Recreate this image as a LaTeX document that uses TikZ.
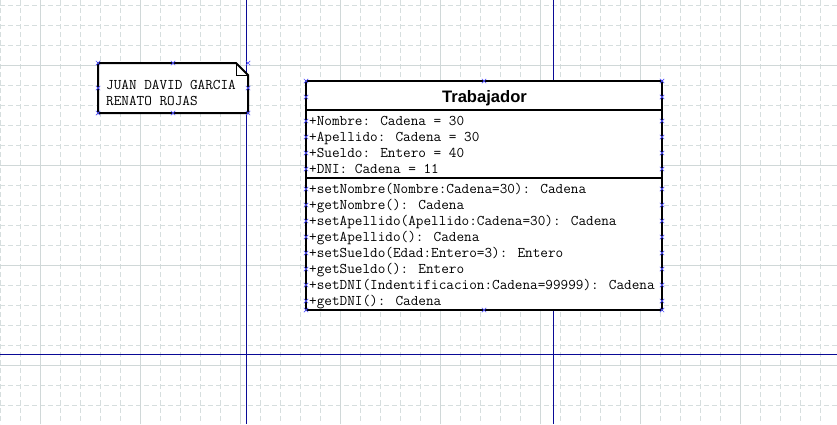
\documentclass[tikz,border=0pt]{standalone}
\usepackage{fontspec}
\newfontfamily\titlefont{Liberation Sans}
\definecolor{griddash}{RGB}{214,222,222}
\definecolor{gridsolid}{RGB}{208,216,216}
\definecolor{guide}{RGB}{10,10,150}
\definecolor{handle}{RGB}{80,80,255}
\tikzset{
  mono/.style={anchor=base west, inner sep=0pt, font=\ttfamily\fontsize{14.8}{16}\selectfont},
  boxline/.style={draw=black, line width=2pt, fill=white},
  handlemark/.pic={\draw[handle, line width=0.7pt] (-2.2,-2.2) -- (2.2,2.2) (-2.2,2.2) -- (2.2,-2.2);},
}
\begin{document}
\begin{tikzpicture}[x=1pt, y=-1pt]
\useasboundingbox (0,0) rectangle (837,424);
\fill[white] (0,0) rectangle (837,424);
% grid
\foreach \gx in {0,20,...,820} {\draw[griddash, line width=1pt, dash pattern=on 5pt off 3pt] (\gx,0) -- (\gx,424);}
\foreach \gy in {5,25,...,405} {\draw[griddash, line width=1pt, dash pattern=on 5pt off 3pt] (0,\gy) -- (837,\gy);}
\foreach \gx in {40,140,...,740} {\draw[gridsolid, line width=1pt] (\gx,0) -- (\gx,424);}
\foreach \gy in {65,165,265,365} {\draw[gridsolid, line width=1pt] (0,\gy) -- (837,\gy);}
% guide lines
\draw[guide, line width=1pt] (246.5,0) -- (246.5,424);
\draw[guide, line width=1pt] (0,354.5) -- (837,354.5);
\draw[guide, line width=1pt] (553.5,0) -- (553.5,424);
% note
\draw[boxline] (98,63) -- (236,63) -- (248,75) -- (248,113) -- (98,113) -- cycle;
\draw[black, line width=1pt] (236,63) -- (236,75) -- (248,75);
\node[mono] (n1) at (106,89) {JUAN DAVID GARCIA};
\node[mono] (n2) at (106,105) {RENATO ROJAS};
% class box
\draw[boxline] (306,81) rectangle (662,310);
\draw[black, line width=2pt] (306,110) -- (662,110);
\draw[black, line width=2pt] (306,178) -- (662,178);
\node[anchor=base, inner sep=0pt, font=\titlefont\bfseries\fontsize{16.6}{20}\selectfont] (title) at (484.5,102) {Trabajador};
\node[mono] (a1) at (309,125) {+Nombre: Cadena = 30};
\node[mono] (a2) at (309,141) {+Apellido: Cadena = 30};
\node[mono] (a3) at (309,157) {+Sueldo: Entero = 40};
\node[mono] (a4) at (309,173) {+DNI: Cadena = 11};
\node[mono] (m1) at (309,193.5) {+setNombre(Nombre:Cadena=30): Cadena};
\node[mono] (m2) at (309,209.5) {+getNombre(): Cadena};
\node[mono] (m3) at (309,225.5) {+setApellido(Apellido:Cadena=30): Cadena};
\node[mono] (m4) at (309,241.5) {+getApellido(): Cadena};
\node[mono] (m5) at (309,257.5) {+setSueldo(Edad:Entero=3): Entero};
\node[mono] (m6) at (309,273.5) {+getSueldo(): Entero};
\node[mono] (m7) at (309,289.5) {+setDNI(Indentificacion:Cadena=99999): Cadena};
\node[mono] (m8) at (309,305.5) {+getDNI(): Cadena};
% handles
\foreach \p in {(98,63),(173,63),(248,63),(98,88),(248,88),(98,113),(173,113),(248,113)} {\pic at \p {handlemark};}
\foreach \p in {(306,81),(484,81),(662,81),(306,310),(484,310),(662,310)} {\pic at \p {handlemark};}
\foreach \hy in {97,121,137,153,169,189,205,221,237,253,269,285,301} {\pic at (306,\hy) {handlemark}; \pic at (662,\hy) {handlemark};}
\end{tikzpicture}
\end{document}
